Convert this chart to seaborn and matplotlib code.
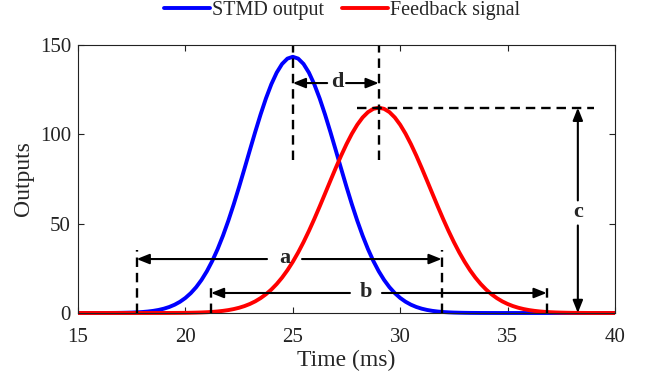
import numpy as np
import pandas as pd
import matplotlib
matplotlib.use("Agg")
import matplotlib.pyplot as plt
import seaborn as sns

# ---- data ----
time_ms = [15.0, 15.25, 15.5, 15.75, 16.0, 16.25, 16.5, 16.75, 17.0, 17.25,
           17.5, 17.75, 18.0, 18.25, 18.5, 18.75, 19.0, 19.25, 19.5, 19.75,
           20.0, 20.25, 20.5, 20.75, 21.0, 21.25, 21.5, 21.75, 22.0, 22.25,
           22.5, 22.75, 23.0, 23.25, 23.5, 23.75, 24.0, 24.25, 24.5, 24.75,
           25.0, 25.25, 25.5, 25.75, 26.0, 26.25, 26.5, 26.75, 27.0, 27.25,
           27.5, 27.75, 28.0, 28.25, 28.5, 28.75, 29.0, 29.25, 29.5, 29.75,
           30.0, 30.25, 30.5, 30.75, 31.0, 31.25, 31.5, 31.75, 32.0, 32.25,
           32.5, 32.75, 33.0, 33.25, 33.5, 33.75, 34.0, 34.25, 34.5, 34.75,
           35.0, 35.25, 35.5, 35.75, 36.0, 36.25, 36.5, 36.75, 37.0, 37.25,
           37.5, 37.75, 38.0, 38.25, 38.5, 38.75, 39.0, 39.25, 39.5, 39.75,
           40.0]

stmd_output = [0.0, 0.0, 0.0, 0.01, 0.01, 0.02, 0.04, 0.06, 0.10, 0.16,
               0.24, 0.37, 0.55, 0.82, 1.19, 1.71, 2.42, 3.38, 4.65, 6.30,
               8.42, 11.11, 14.43, 18.50, 23.37, 29.11, 35.76, 43.30, 51.69, 60.84,
               70.60, 80.78, 91.12, 101.33, 111.11, 120.12, 128.03, 134.54, 139.39, 142.39,
               143.40, 142.39, 139.39, 134.54, 128.03, 120.12, 111.11, 101.33, 91.12, 80.78,
               70.60, 60.84, 51.69, 43.30, 35.76, 29.11, 23.37, 18.50, 14.43, 11.11,
               8.42, 6.30, 4.65, 3.38, 2.42, 1.71, 1.19, 0.82, 0.55, 0.37,
               0.24, 0.16, 0.10, 0.06, 0.04, 0.02, 0.01, 0.01, 0.0, 0.0,
               0.0, 0.0, 0.0, 0.0, 0.0, 0.0, 0.0, 0.0, 0.0, 0.0,
               0.0, 0.0, 0.0, 0.0, 0.0, 0.0, 0.0, 0.0, 0.0, 0.0,
               0.0]

feedback_signal = [0.0, 0.0, 0.0, 0.0, 0.0, 0.0, 0.0, 0.0, 0.0, 0.0,
                   0.0, 0.0, 0.0, 0.0, 0.01, 0.01, 0.02, 0.03, 0.05, 0.07,
                   0.10, 0.15, 0.22, 0.31, 0.44, 0.62, 0.87, 1.20, 1.63, 2.20,
                   2.93, 3.87, 5.05, 6.51, 8.32, 10.50, 13.12, 16.21, 19.81, 23.95,
                   28.65, 33.90, 39.67, 45.93, 52.60, 59.60, 66.79, 74.04, 81.19, 88.08,
                   94.51, 100.33, 105.35, 109.43, 112.43, 114.28, 114.90, 114.28, 112.43, 109.43,
                   105.35, 100.33, 94.51, 88.08, 81.19, 74.04, 66.79, 59.60, 52.60, 45.93,
                   39.67, 33.90, 28.65, 23.95, 19.81, 16.21, 13.12, 10.50, 8.32, 6.51,
                   5.05, 3.87, 2.93, 2.20, 1.63, 1.20, 0.87, 0.62, 0.44, 0.31,
                   0.22, 0.15, 0.10, 0.07, 0.05, 0.03, 0.02, 0.01, 0.01, 0.0,
                   0.0]

series_names = ["STMD output", "Feedback signal"]
x_ticks = [15, 20, 25, 30, 35, 40]
y_ticks = [0, 50, 100, 150]

# annotation values (ms / output units)
stmd_peak_t, fb_peak_t, fb_peak_v = 25.0, 29.0, 114.9
a_range = (17.73, 31.93)
b_range = (21.19, 36.82)
c_x = 38.27

df = pd.concat([
    pd.DataFrame({"Time": time_ms, "Output": stmd_output, "Series": series_names[0]}),
    pd.DataFrame({"Time": time_ms, "Output": feedback_signal, "Series": series_names[1]}),
])

sns.set_style("ticks")
plt.rcParams["font.family"] = ["Liberation Serif", "DejaVu Serif"]

fig = plt.figure(figsize=(6.47, 3.82), dpi=100)
ax = fig.add_axes([78 / 647, 1 - 313 / 382, (615 - 78) / 647, (313 - 45) / 382])

sns.lineplot(data=df, x="Time", y="Output", hue="Series", hue_order=series_names,
             palette=["#0000ff", "#ff0000"], linewidth=2.8, ax=ax, sort=False)
for ln in ax.get_lines():
    ln.set_clip_on(False)
    ln.set_solid_capstyle("butt")

ax.set_xlim(15, 40)
ax.set_ylim(0, 150)
ax.set_xticks(x_ticks)
ax.set_yticks(y_ticks)
ax.tick_params(direction="in", top=True, right=True, length=4, width=0.8,
               labelsize=15, colors="#222222")
ax.tick_params(axis="x", pad=11)
ax.tick_params(axis="y", pad=5)
for s in ax.spines.values():
    s.set_visible(True)
    s.set_linewidth(0.8)
    s.set_color("#222222")
ax.set_xlabel("Time (ms)", fontsize=17, labelpad=2)
ax.set_ylabel("Outputs", fontsize=17, labelpad=4)

dash = dict(color="black", linewidth=1.7, linestyle=(0, (4, 2.5)), clip_on=False)
# d vertical guides
ax.plot([stmd_peak_t, stmd_peak_t], [85.5, 150], **dash)
ax.plot([fb_peak_t, fb_peak_t], [85.5, 150], **dash)
# c horizontal guide
ax.plot([28.0, 39.0], [fb_peak_v, fb_peak_v], **dash)
# a, b vertical guides
ax.plot([a_range[0]] * 2, [0, 35], **dash)
ax.plot([a_range[1]] * 2, [0, 35], **dash)
ax.plot([b_range[0]] * 2, [0, 16.5], **dash)
ax.plot([b_range[1]] * 2, [0, 17], **dash)

ap = dict(arrowstyle="-|>,head_length=0.75,head_width=0.3", mutation_scale=10,
          color="black", lw=1.5, shrinkA=0, shrinkB=0)

def arrow(x0, y0, x1, y1):
    ax.annotate("", xy=(x1, y1), xytext=(x0, y0), arrowprops=ap,
                annotation_clip=False)

lab = dict(fontsize=16, fontweight="bold", ha="center", va="center")
# d
arrow(26.6, 128.7, stmd_peak_t, 128.7)
arrow(27.48, 128.7, fb_peak_t, 128.7)
ax.text(27.05, 129.5, "d", **lab)
# a
arrow(23.8, 30.2, a_range[0], 30.2)
arrow(25.43, 30.2, a_range[1], 30.2)
ax.text(24.62, 30.8, "a", **lab)
# b
arrow(27.66, 11.2, b_range[0], 11.2)
arrow(29.15, 11.2, b_range[1], 11.2)
ax.text(28.4, 11.8, "b", **lab)
# c
arrow(c_x, 63, c_x, fb_peak_v)
arrow(c_x, 49, c_x, 0)
ax.text(c_x, 56.5, "c", **lab)

sns.move_legend(ax, "upper center", bbox_to_anchor=(342 / 647, 1.0),
                bbox_transform=fig.transFigure, ncol=2, frameon=False, title=None,
                fontsize=14.5, handlelength=2.3, handletextpad=0.1,
                columnspacing=0.9, borderpad=0.05, borderaxespad=0.0)
leg = ax.get_legend()
for h in leg.legend_handles:
    h.set_linewidth(2.8)

fig.savefig("out.png", dpi=100)
